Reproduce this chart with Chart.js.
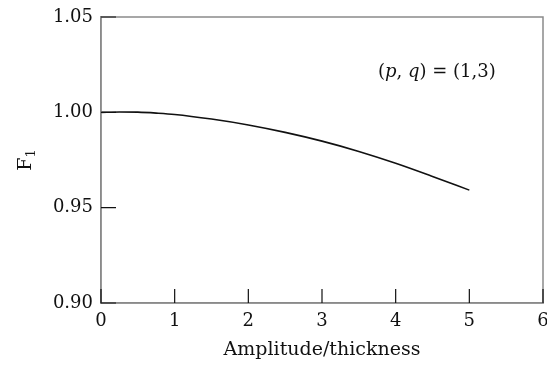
<!DOCTYPE html>
<html>
<head>
<meta charset="utf-8">
<script src="https://cdn.jsdelivr.net/npm/chart.js@4/dist/chart.umd.min.js"></script>
<style>
  html, body { margin:0; padding:0; background:#fff; }
  #wrap { width:547px; height:365px; }
</style>
</head>
<body>
<div id="wrap"><canvas id="c" width="547" height="365"></canvas></div>
<script>
// values
const amplitude = [0, 0.25, 0.5, 0.75, 1, 1.5, 2, 2.5, 3, 3.5, 4, 4.5, 5];
const f1 = [1.0000, 1.0002, 1.0001, 0.9996, 0.9989, 0.9965, 0.9934, 0.9895, 0.9849, 0.9795, 0.9733, 0.9664, 0.9592];
const xTicks = [0, 1, 2, 3, 4, 5, 6];
const yTicks = [0.90, 0.95, 1.00, 1.05];

const FONT = '"DejaVu Serif", "Liberation Serif", serif';
const AXIS = '#8a8a8a';
const INK = '#111';

// inward ticks, box, y title and the (p, q) note
const decor = {
  id: 'decor',
  afterDraw(chart) {
    const { ctx, chartArea: a, scales: { x, y } } = chart;
    ctx.save();
    ctx.strokeStyle = AXIS;
    ctx.lineWidth = 1.5;
    ctx.strokeRect(a.left, a.top, a.right - a.left, a.bottom - a.top);

    ctx.strokeStyle = INK;
    ctx.lineWidth = 1.2;
    ctx.beginPath();
    xTicks.forEach(v => {
      const px = x.getPixelForValue(v);
      ctx.moveTo(px, a.bottom);
      ctx.lineTo(px, a.bottom - 14);
    });
    yTicks.forEach(v => {
      const py = y.getPixelForValue(v);
      ctx.moveTo(a.left, py);
      ctx.lineTo(a.left + 15, py);
    });
    ctx.stroke();

    // F1 (rotated, with subscript)
    ctx.fillStyle = INK;
    ctx.save();
    ctx.translate(31, (a.top + a.bottom) / 2);
    ctx.rotate(-Math.PI / 2);
    ctx.textBaseline = 'alphabetic';
    ctx.font = '19px ' + FONT;
    const wF = ctx.measureText('F').width;
    ctx.font = '13px ' + FONT;
    const w1 = ctx.measureText('1').width;
    const start = -(wF + w1) / 2;
    ctx.font = '19px ' + FONT;
    ctx.fillText('F', start, 0);
    ctx.font = '13px ' + FONT;
    ctx.fillText('1', start + wF, 4);
    ctx.restore();

    // (p, q) = (1,3)
    let px = x.getPixelForValue(3.76);
    const py = y.getPixelForValue(1.0212);
    ctx.textBaseline = 'middle';
    const parts = [['(', false], ['p', true], [', ', false], ['q', true], [') = (1,3)', false]];
    parts.forEach(([t, it]) => {
      ctx.font = (it ? 'italic ' : '') + '18px ' + FONT;
      ctx.fillText(t, px, py);
      px += ctx.measureText(t).width;
    });
    ctx.restore();
  }
};

new Chart(document.getElementById('c'), {
  type: 'line',
  data: {
    datasets: [{
      data: amplitude.map((a, i) => ({ x: a, y: f1[i] })),
      borderColor: '#111',
      borderWidth: 1.6,
      pointRadius: 0,
      fill: false,
      cubicInterpolationMode: 'monotone'
    }]
  },
  options: {
    responsive: false,
    animation: false,
    layout: { padding: { top: 17, right: 4, left: 0, bottom: 0 } },
    plugins: { legend: { display: false }, tooltip: { enabled: false } },
    scales: {
      x: {
        type: 'linear', min: 0, max: 6,
        afterBuildTicks: s => { s.ticks = xTicks.map(v => ({ value: v })); },
        afterFit: s => { s.height = 62; s.paddingLeft = 0; s.paddingRight = 0; },
        grid: { display: false, drawTicks: false },
        border: { display: true, color: AXIS, width: 1.5 },
        ticks: { color: INK, padding: 8, font: { family: FONT, size: 18 }, maxRotation: 0 },
        title: { display: true, text: 'Amplitude/thickness', color: INK, font: { family: FONT, size: 19 }, padding: { top: 4 } }
      },
      y: {
        type: 'linear', min: 0.90, max: 1.05,
        afterBuildTicks: s => { s.ticks = yTicks.map(v => ({ value: v })); },
        afterFit: s => { s.width = 101; s.paddingTop = 0; s.paddingBottom = 0; },
        grid: { display: false, drawTicks: false },
        border: { display: true, color: AXIS, width: 1.5 },
        ticks: { color: INK, padding: 8, font: { family: FONT, size: 18 }, callback: v => v.toFixed(2) }
      }
    }
  },
  plugins: [decor]
});
</script>
</body>
</html>
